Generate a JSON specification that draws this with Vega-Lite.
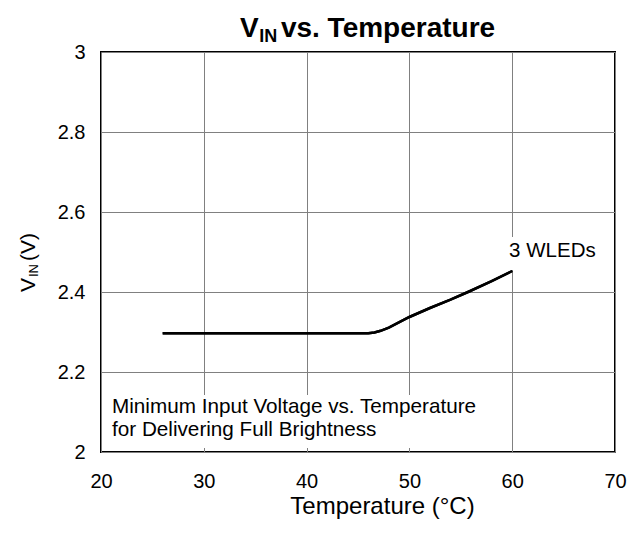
{
  "$schema": "https://vega.github.io/schema/vega-lite/v6.json",
  "width": 514,
  "height": 400,
  "autosize": {"type": "none"},
  "padding": {"left": 101, "top": 52, "right": 27, "bottom": 82},
  "background": "white",
  "config": {
    "font": "Liberation Sans",
    "view": {"stroke": "black", "strokeWidth": 2},
    "axis": {
      "grid": true,
      "gridColor": "#808080",
      "gridWidth": 1,
      "gridOpacity": 1,
      "domain": false,
      "ticks": false,
      "labelFlush": false,
      "labelFont": "Liberation Sans",
      "labelFontSize": 20,
      "labelColor": "black",
      "titleFont": "Liberation Sans",
      "titleColor": "black",
      "titleFontWeight": "normal"
    }
  },
  "datasets": {
    "curve": [
      {"temp": 26, "vin": 2.297},
      {"temp": 46, "vin": 2.297},
      {"temp": 46.6, "vin": 2.299},
      {"temp": 47.2, "vin": 2.303},
      {"temp": 48, "vin": 2.311},
      {"temp": 50, "vin": 2.3375},
      {"temp": 52, "vin": 2.36},
      {"temp": 54, "vin": 2.381},
      {"temp": 55.7, "vin": 2.4},
      {"temp": 58, "vin": 2.427},
      {"temp": 60, "vin": 2.4525}
    ],
    "one": [{}]
  },
  "layer": [
    {
      "data": {"name": "curve"},
      "mark": {"type": "line", "color": "black", "strokeWidth": 2.5},
      "encoding": {
        "x": {
          "field": "temp",
          "type": "quantitative",
          "scale": {"domain": [20, 70], "nice": false, "zero": false},
          "axis": {
            "values": [20, 30, 40, 50, 60, 70],
            "title": "Temperature (°C)",
            "titleFontSize": 24,
            "titlePadding": 3,
            "titleX": 281,
            "labelPadding": 19
          }
        },
        "y": {
          "field": "vin",
          "type": "quantitative",
          "scale": {"domain": [2, 3], "nice": false, "zero": false},
          "axis": {
            "values": [2, 2.2, 2.4, 2.6, 2.8, 3],
            "format": "~g",
            "title": null,
            "labelPadding": 16
          }
        }
      }
    },
    {
      "data": {"name": "one"},
      "mark": {"type": "rect", "fill": "white"},
      "encoding": {
        "x": {"datum": 20.2},
        "x2": {"datum": 57.4},
        "y": {"datum": 2.01},
        "y2": {"datum": 2.1425}
      }
    },
    {
      "data": {"name": "one"},
      "mark": {"type": "rect", "fill": "white"},
      "encoding": {
        "x": {"datum": 59.5},
        "x2": {"datum": 68.6},
        "y": {"datum": 2.455},
        "y2": {"datum": 2.5375}
      }
    },
    {
      "data": {"name": "curve"},
      "mark": {"type": "line", "color": "black", "strokeWidth": 2.5},
      "encoding": {
        "x": {"field": "temp", "type": "quantitative"},
        "y": {"field": "vin", "type": "quantitative"}
      }
    },
    {
      "data": {"name": "one"},
      "mark": {"type": "text", "align": "left", "baseline": "alphabetic", "fontSize": 20.5, "font": "Liberation Sans", "color": "black"},
      "encoding": {
        "x": {"datum": 59.7},
        "y": {"datum": 2.4875},
        "text": {"value": "3 WLEDs"}
      }
    },
    {
      "data": {"name": "one"},
      "mark": {"type": "text", "align": "left", "baseline": "alphabetic", "fontSize": 20.7, "font": "Liberation Sans", "color": "black"},
      "encoding": {
        "x": {"datum": 21.07},
        "y": {"datum": 2.0975},
        "text": {"value": "Minimum Input Voltage vs. Temperature"}
      }
    },
    {
      "data": {"name": "one"},
      "mark": {"type": "text", "align": "left", "baseline": "alphabetic", "fontSize": 20.7, "font": "Liberation Sans", "color": "black"},
      "encoding": {
        "x": {"datum": 21.07},
        "y": {"datum": 2.04},
        "text": {"value": "for Delivering Full Brightness"}
      }
    },
    {
      "data": {"name": "one"},
      "mark": {"type": "text", "align": "left", "baseline": "alphabetic", "fontSize": 28, "fontWeight": "bold", "font": "Liberation Sans", "color": "black"},
      "encoding": {
        "x": {"datum": 33.52},
        "y": {"datum": 3.0375},
        "text": {"value": "V"}
      }
    },
    {
      "data": {"name": "one"},
      "mark": {"type": "text", "align": "left", "baseline": "alphabetic", "fontSize": 18, "fontWeight": "bold", "font": "Liberation Sans", "color": "black"},
      "encoding": {
        "x": {"datum": 35.4},
        "y": {"datum": 3.024},
        "text": {"value": "IN"}
      }
    },
    {
      "data": {"name": "one"},
      "mark": {"type": "text", "align": "left", "baseline": "alphabetic", "fontSize": 28, "fontWeight": "bold", "font": "Liberation Sans", "color": "black"},
      "encoding": {
        "x": {"datum": 37.5},
        "y": {"datum": 3.0375},
        "text": {"value": "vs. Temperature"}
      }
    },
    {
      "data": {"name": "one"},
      "mark": {"type": "text", "align": "left", "baseline": "alphabetic", "angle": 270, "fontSize": 21, "font": "Liberation Sans", "color": "black"},
      "encoding": {
        "x": {"datum": 13.58},
        "y": {"datum": 2.4},
        "text": {"value": "V"}
      }
    },
    {
      "data": {"name": "one"},
      "mark": {"type": "text", "align": "left", "baseline": "alphabetic", "angle": 270, "fontSize": 13, "font": "Liberation Sans", "color": "black"},
      "encoding": {
        "x": {"datum": 13.87},
        "y": {"datum": 2.4375},
        "text": {"value": "IN"}
      }
    },
    {
      "data": {"name": "one"},
      "mark": {"type": "text", "align": "left", "baseline": "alphabetic", "angle": 270, "fontSize": 21, "font": "Liberation Sans", "color": "black"},
      "encoding": {
        "x": {"datum": 13.58},
        "y": {"datum": 2.4775},
        "text": {"value": "(V)"}
      }
    }
  ]
}
